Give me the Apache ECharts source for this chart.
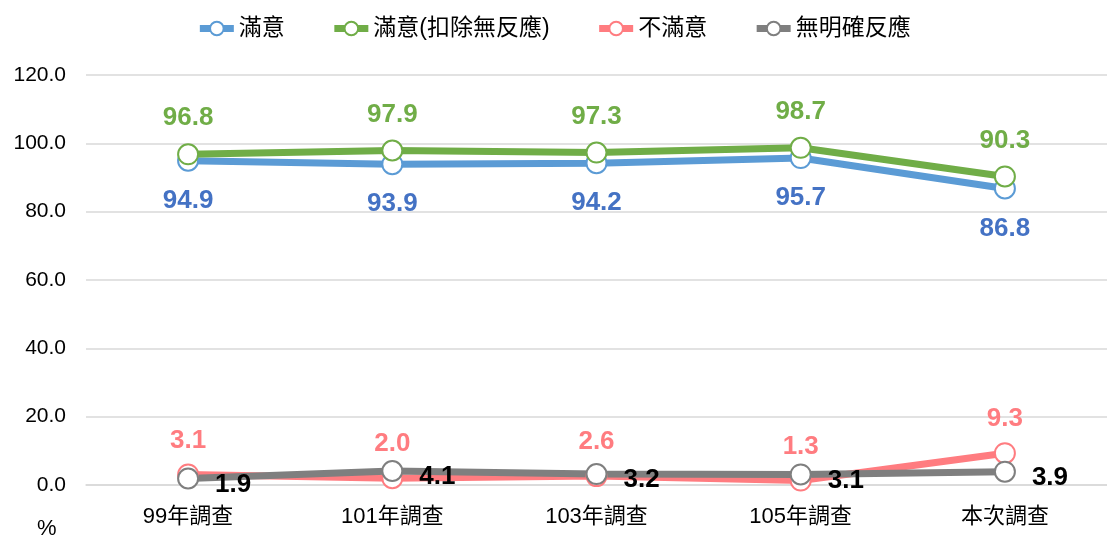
<!DOCTYPE html>
<html>
<head>
<meta charset="utf-8">
<script src="https://cdn.jsdelivr.net/npm/echarts@6/dist/echarts.min.js"></script>
<style>
  html, body { margin: 0; padding: 0; background: #fff; }
  #chart { width: 1107px; height: 535px; }
</style>
</head>
<body>
<div id="chart"></div>
<script>
// Survey rounds
const categories = ['99年調查', '101年調查', '103年調查', '105年調查', '本次調查'];

// Percentages per round
const satisfied = [94.9, 93.9, 94.2, 95.7, 86.8];
const satisfiedExclNoResponse = [96.8, 97.9, 97.3, 98.7, 90.3];
const dissatisfied = [3.1, 2.0, 2.6, 1.3, 9.3];
const noClearResponse = [1.9, 4.1, 3.2, 3.1, 3.9];

const seriesNames = ['滿意', '滿意(扣除無反應)', '不滿意', '無明確反應'];
const seriesColors = ['#5B9BD5', '#70AD47', '#FF7C80', '#7F7F7F'];

const latinFont = '"Liberation Sans", Arial, sans-serif';
const cjkFont = '"Liberation Sans", "Noto Sans CJK TC", sans-serif';

function lineSeries(name, data, color, labelColor, labelCfg) {
  return {
    name: name,
    type: 'line',
    data: data,
    symbol: 'circle',
    symbolSize: 20,
    lineStyle: { color: color, width: 7 },
    itemStyle: { color: '#fff', borderColor: color, borderWidth: 2 },
    label: Object.assign({
      show: true,
      color: labelColor,
      fontFamily: latinFont,
      fontWeight: 'bold',
      fontSize: 26,
      formatter: p => p.value.toFixed(1)
    }, labelCfg),
    emphasis: { disabled: true },
    animation: false
  };
}

const chart = echarts.init(document.getElementById('chart'), null, { renderer: 'canvas' });

chart.setOption({
  backgroundColor: '#fff',
  legend: {
    top: 12,
    left: 'center',
    itemWidth: 34,
    itemHeight: 17,
    itemGap: 46,
    textStyle: { fontFamily: cjkFont, fontSize: 23, color: '#000' },
    data: seriesNames.map((n, i) => ({
      name: n,
      lineStyle: { color: seriesColors[i], width: 7 },
      itemStyle: { color: '#fff', borderColor: seriesColors[i], borderWidth: 2 }
    }))
  },
  grid: { left: 86, right: -11.5, top: 75, bottom: 50 },
  xAxis: {
    type: 'category',
    data: categories,
    boundaryGap: true,
    axisLine: { show: true, lineStyle: { color: '#D9D9D9', width: 1.5 } },
    axisTick: { show: false },
    axisLabel: { margin: 21, fontFamily: cjkFont, fontSize: 22, color: '#000' }
  },
  yAxis: {
    type: 'value',
    min: 0,
    max: 120,
    interval: 20,
    axisLine: { show: false },
    axisTick: { show: false },
    splitLine: { lineStyle: { color: '#D9D9D9', width: 1.5 } },
    axisLabel: {
      margin: 20,
      fontFamily: latinFont,
      fontSize: 21,
      color: '#000',
      formatter: v => v.toFixed(1)
    }
  },
  graphic: [{
    type: 'text',
    left: 37,
    top: 518,
    style: { text: '%', font: '22px "Liberation Sans", Arial, sans-serif', fill: '#000' }
  }],
  series: [
    lineSeries(seriesNames[0], satisfied, seriesColors[0], '#4472C4', { position: 'bottom', distance: 16 }),
    lineSeries(seriesNames[1], satisfiedExclNoResponse, seriesColors[1], '#70AD47', { position: 'top', distance: 12 }),
    lineSeries(seriesNames[2], dissatisfied, seriesColors[2], '#FF7C80', { position: 'top', distance: 10 }),
    lineSeries(seriesNames[3], noClearResponse, seriesColors[3], '#000', { position: 'right', distance: 16, offset: [0, 6] })
  ]
});
</script>
</body>
</html>
